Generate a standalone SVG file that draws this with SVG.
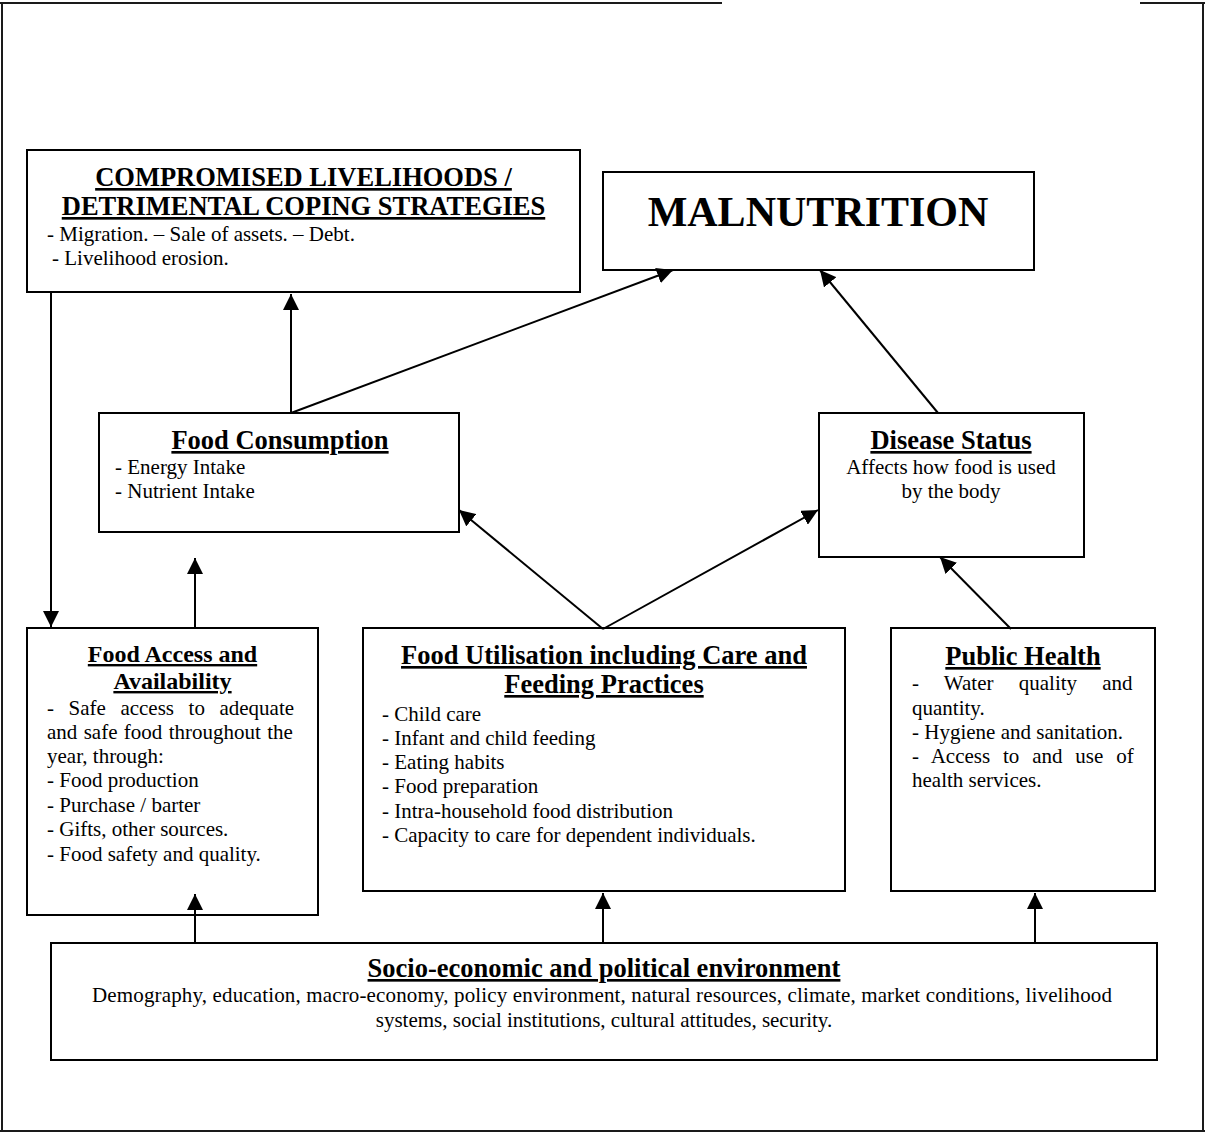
<svg xmlns="http://www.w3.org/2000/svg" width="1205" height="1133" viewBox="0 0 1205 1133">
<style>
.box{fill:#fff;stroke:#000;stroke-width:2}
.t{font-family:"Liberation Serif","Times New Roman",serif;fill:#000}
.h{font-size:26.5px;font-weight:bold;text-decoration:underline;text-anchor:middle}
.b{font-size:21px}
.c{text-anchor:middle}
.con line{stroke:#000;stroke-width:2;marker-end:url(#ah)}
</style>
<defs>
<marker id="ah" markerUnits="userSpaceOnUse" markerWidth="16" markerHeight="16" refX="15" refY="7.5" orient="auto" viewBox="0 0 15 15">
<path d="M0,0 L15,7.5 L0,15 Z" fill="#000"/>
</marker>
</defs>
<rect width="1205" height="1133" fill="#fff"/>
<g id="frame" stroke="#1a1a1a" stroke-width="2" fill="none">
<line x1="0" y1="3" x2="722" y2="3"/>
<line x1="1140" y1="3" x2="1205" y2="3"/>
<line x1="2" y1="3" x2="2" y2="1132"/>
<line x1="1203" y1="3" x2="1203" y2="1132"/>
<line x1="0" y1="1131" x2="1205" y2="1131"/>
</g>
<g id="compromised">
<rect class="box" x="27" y="150" width="553" height="142"/>
<text class="t h" x="303.5" y="186">COMPROMISED LIVELIHOODS /</text>
<text class="t h" x="303.5" y="215">DETRIMENTAL COPING STRATEGIES</text>
<text class="t b" x="47" y="241">- Migration. – Sale of assets. – Debt.</text>
<text class="t b" x="52" y="265">- Livelihood erosion.</text>
</g>
<g id="malnutrition">
<rect class="box" x="603" y="172" width="431" height="98"/>
<text class="t c" x="818" y="226" font-size="42" font-weight="bold">MALNUTRITION</text>
</g>
<g id="food-consumption">
<rect class="box" x="99" y="413" width="360" height="119"/>
<text class="t h" x="280" y="449">Food Consumption</text>
<text class="t b" x="115" y="474">- Energy Intake</text>
<text class="t b" x="115" y="498">- Nutrient Intake</text>
</g>
<g id="disease-status">
<rect class="box" x="819" y="413" width="265" height="144"/>
<text class="t h" x="951" y="449">Disease Status</text>
<text class="t b c" x="951" y="474">Affects how food is used</text>
<text class="t b c" x="951" y="498">by the body</text>
</g>
<g id="food-access">
<rect class="box" x="27" y="628" width="291" height="287"/>
<text class="t h" x="172.5" y="662" style="font-size:24px">Food Access and</text>
<text class="t h" x="172.5" y="689" style="font-size:24px">Availability</text>
<text class="t b" x="47" y="715" word-spacing="9.3">- Safe access to adequate</text>
<text class="t b" x="47" y="739" word-spacing="1.1">and safe food throughout the</text>
<text class="t b" x="47" y="763">year, through:</text>
<text class="t b" x="47" y="787">- Food production</text>
<text class="t b" x="47" y="812">- Purchase / barter</text>
<text class="t b" x="47" y="836">- Gifts, other sources.</text>
<text class="t b" x="47" y="861">- Food safety and quality.</text>
</g>
<g id="food-utilisation">
<rect class="box" x="363" y="628" width="482" height="263"/>
<text class="t h" x="604" y="664">Food Utilisation including Care and</text>
<text class="t h" x="604" y="693">Feeding Practices</text>
<text class="t b" x="382" y="721">- Child care</text>
<text class="t b" x="382" y="745">- Infant and child feeding</text>
<text class="t b" x="382" y="769">- Eating habits</text>
<text class="t b" x="382" y="793">- Food preparation</text>
<text class="t b" x="382" y="818">- Intra-household food distribution</text>
<text class="t b" x="382" y="842">- Capacity to care for dependent individuals.</text>
</g>
<g id="public-health">
<rect class="box" x="891" y="628" width="264" height="263"/>
<text class="t h" x="1023" y="665">Public Health</text>
<text class="t b" x="912" y="690" word-spacing="20">- Water quality and</text>
<text class="t b" x="912" y="715">quantity.</text>
<text class="t b" x="912" y="739">- Hygiene and sanitation.</text>
<text class="t b" x="912" y="763" word-spacing="7.6">- Access to and use of</text>
<text class="t b" x="912" y="787">health services.</text>
</g>
<g id="socio-economic">
<rect class="box" x="51" y="943" width="1106" height="117"/>
<text class="t h" x="604" y="977">Socio-economic and political environment</text>
<text class="t b" x="92" y="1002" textLength="1020" lengthAdjust="spacing">Demography, education, macro-economy, policy environment, natural resources, climate, market conditions, livelihood</text>
<text class="t b c" x="604" y="1027">systems, social institutions, cultural attitudes, security.</text>
</g>
<g id="connectors" class="con">
<line x1="51" y1="292" x2="51" y2="627"/>
<line x1="195" y1="628" x2="195" y2="558"/>
<line x1="291" y1="413" x2="291" y2="294"/>
<line x1="291" y1="413" x2="673" y2="270"/>
<line x1="938" y1="413" x2="820" y2="270"/>
<line x1="603" y1="629" x2="459" y2="510"/>
<line x1="603" y1="629" x2="818" y2="510"/>
<line x1="1011" y1="629" x2="940" y2="557"/>
<line x1="195" y1="943" x2="195" y2="894"/>
<line x1="603" y1="943" x2="603" y2="893"/>
<line x1="1035" y1="943" x2="1035" y2="893"/>
</g>
</svg>
